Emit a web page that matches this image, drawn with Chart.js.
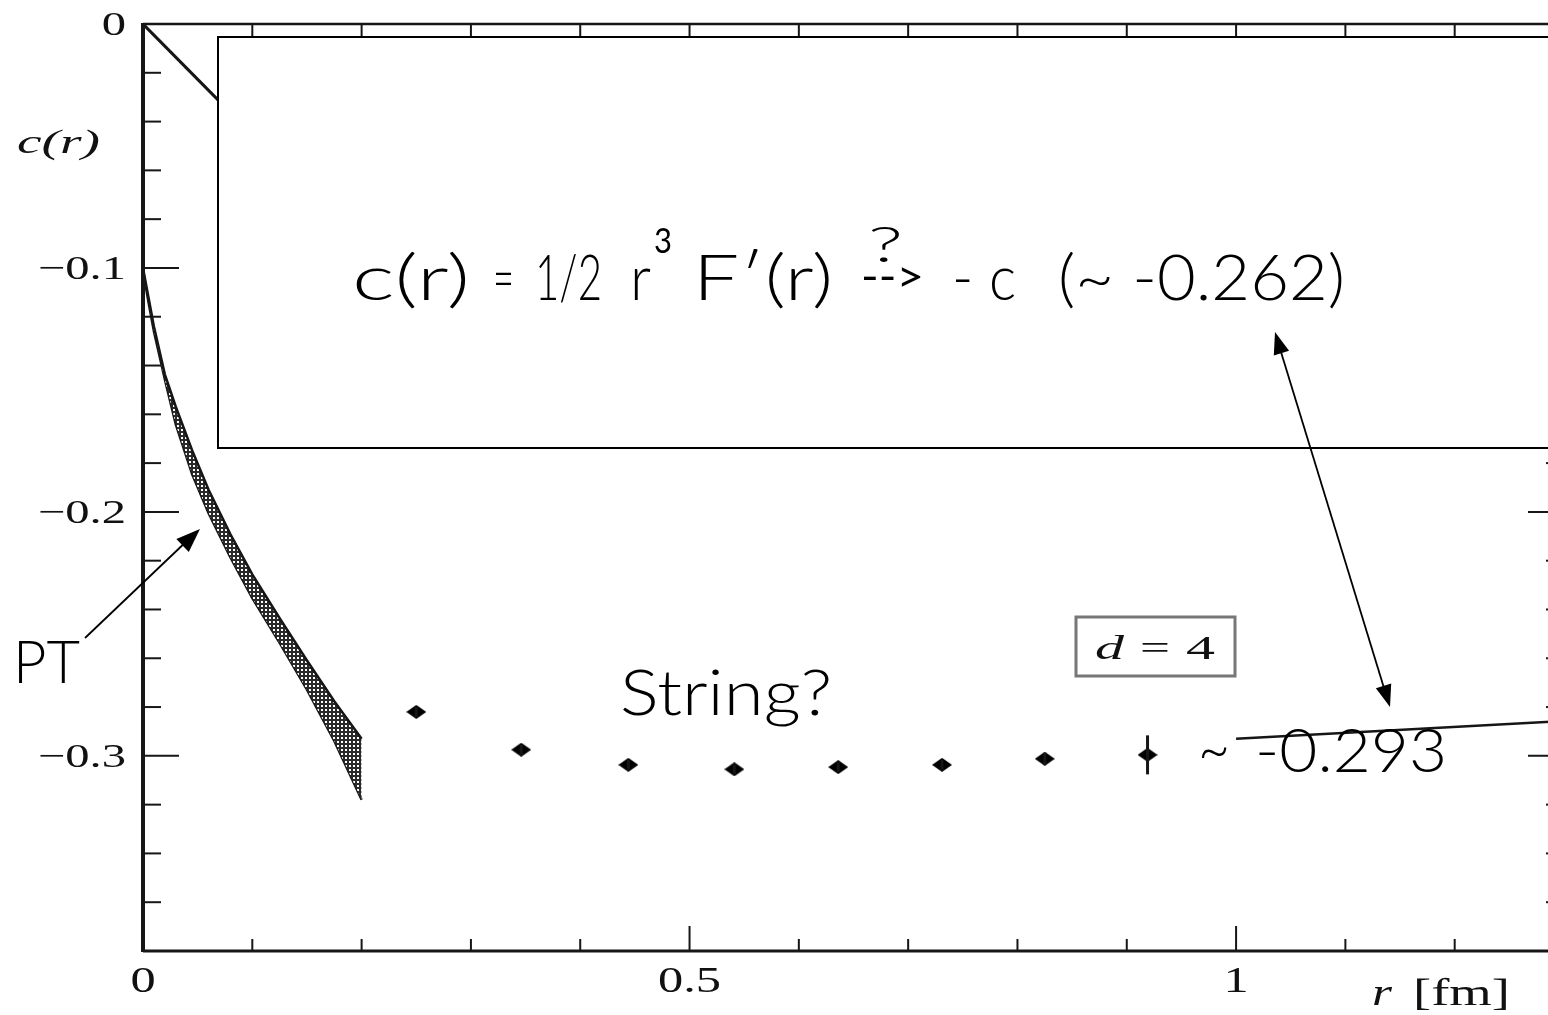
<!DOCTYPE html>
<html>
<head>
<meta charset="utf-8">
<title>c(r)</title>
<script src="https://cdn.jsdelivr.net/npm/chart.js@4.4.1/dist/chart.umd.min.js"></script>
<style>
  html, body { margin: 0; padding: 0; background: #fff; overflow: hidden; }
  #plot { position: absolute; left: 0; top: 0; }
</style>
</head>
<body>
<canvas id="plot" width="1600" height="1015"></canvas>
<script>
// lattice results for c(r), d = 4
const rLat = [0.250, 0.346, 0.444, 0.541, 0.636, 0.731, 0.825, 0.919];
const cLat = [-0.282, -0.2975, -0.3037, -0.3055, -0.3046, -0.3037, -0.3012, -0.2996];
const cLatErr = [0.002, 0.002, 0.002, 0.002, 0.002, 0.002, 0.0025, 0.008];

// perturbative band, upper and lower edge
const rPT = [0, 0.005, 0.01, 0.02, 0.03, 0.045, 0.06, 0.08, 0.1, 0.125, 0.15, 0.175, 0.2];
const cPTHi = [-0.100, -0.112, -0.124, -0.1436, -0.1569, -0.1748, -0.1909, -0.2092, -0.2256, -0.2436, -0.2609, -0.2776, -0.2930];
const cPTLo = [-0.101, -0.114, -0.126, -0.1457, -0.1641, -0.1846, -0.2005, -0.2187, -0.2353, -0.2537, -0.2729, -0.2939, -0.3180];

// straight line out of the origin
const rOrigin = [0, 0.15];
const cOrigin = [0, -0.068];

// large-r string line
const rString = [1.0, 1.3];
const cString = [-0.293, -0.2857];

// axis ticks
const xTickValues = [0, 0.5, 1];
const xMinorValues = [0.1, 0.2, 0.3, 0.4, 0.6, 0.7, 0.8, 0.9, 1.1, 1.2];
const yTickValues = [0, -0.1, -0.2, -0.3];
const yMinorValues = [-0.02, -0.04, -0.06, -0.08, -0.12, -0.14, -0.16, -0.18,
                      -0.22, -0.24, -0.26, -0.28, -0.32, -0.34, -0.36];

const ink = '#161616';
const serif = '"Liberation Serif", "Times New Roman", serif';
const sans = 'Lato, "Open Sans", sans-serif';

const pairs = (xs, ys) => xs.map((v, i) => ({ x: v, y: ys[i] }));

const canvas = document.getElementById('plot');
const ctx0 = canvas.getContext('2d');

// stipple for the PT band: dark grid with small white holes
const tile = document.createElement('canvas');
tile.width = 4; tile.height = 4;
const tg = tile.getContext('2d');
tg.fillStyle = '#2a2a2a'; tg.fillRect(0, 0, 4, 4);
tg.fillStyle = '#fff';
tg.fillRect(1, 1, 2, 2);
const ptPattern = ctx0.createPattern(tile, 'repeat');

// flattened diamond marker
const diamond = document.createElement('canvas');
diamond.width = 20; diamond.height = 14;
const dg = diamond.getContext('2d');
dg.fillStyle = '#000';
dg.beginPath();
dg.moveTo(10, 0); dg.lineTo(20, 7); dg.lineTo(10, 14); dg.lineTo(0, 7);
dg.closePath(); dg.fill();

// widened serif text
function stretchText(ctx, text, x, y, font, sx, align) {
  ctx.save();
  ctx.font = font;
  const w = ctx.measureText(text).width * sx;
  let left = x;
  if (align === 'right') left = x - w;
  else if (align === 'center') left = x - w / 2;
  ctx.translate(left, y);
  ctx.scale(sx, 1);
  ctx.textAlign = 'left';
  ctx.textBaseline = 'alphabetic';
  ctx.fillText(text, 0, 0);
  ctx.restore();
}

// text squeezed or widened to span x0..x1
function fitText(ctx, text, x0, x1, y, font) {
  ctx.save();
  ctx.font = font;
  const sx = (x1 - x0) / ctx.measureText(text).width;
  ctx.translate(x0, y);
  ctx.scale(sx, 1);
  ctx.textAlign = 'left';
  ctx.textBaseline = 'alphabetic';
  ctx.fillText(text, 0, 0);
  ctx.restore();
}

function arrowHead(ctx, fx, fy, tx, ty, len, half) {
  const a = Math.atan2(ty - fy, tx - fx);
  const c = Math.cos(a), s = Math.sin(a);
  ctx.beginPath();
  ctx.moveTo(tx, ty);
  ctx.lineTo(tx - len * c + half * s, ty - len * s - half * c);
  ctx.lineTo(tx - len * c - half * s, ty - len * s + half * c);
  ctx.closePath();
  ctx.fill();
}

function segment(ctx, x0, y0, x1, y1) {
  ctx.beginPath();
  ctx.moveTo(x0, y0);
  ctx.lineTo(x1, y1);
  ctx.stroke();
}

const decor = {
  id: 'decor',
  afterDatasetsDraw(chart) {
    const { ctx, chartArea: a, scales: { x, y } } = chart;
    ctx.save();
    ctx.strokeStyle = ink;
    ctx.fillStyle = ink;

    // error bars on the lattice points
    ctx.lineWidth = 3;
    rLat.forEach((r, i) => {
      const px = x.getPixelForValue(r);
      segment(ctx, px, y.getPixelForValue(cLat[i] + cLatErr[i]), px, y.getPixelForValue(cLat[i] - cLatErr[i]));
    });

    // inward tick marks on all four sides
    ctx.lineWidth = 2;
    xMinorValues.forEach(v => {
      const px = x.getPixelForValue(v);
      segment(ctx, px, a.bottom, px, a.bottom - 12);
      segment(ctx, px, a.top, px, a.top + 12);
    });
    x.ticks.forEach(t => {
      const px = x.getPixelForValue(t.value);
      segment(ctx, px, a.bottom, px, a.bottom - 25);
      segment(ctx, px, a.top, px, a.top + 25);
    });
    yMinorValues.forEach(v => {
      const py = y.getPixelForValue(v);
      segment(ctx, a.left, py, a.left + 18, py);
      segment(ctx, a.right, py, a.right - 18, py);
    });
    y.ticks.forEach(t => {
      const py = y.getPixelForValue(t.value);
      segment(ctx, a.left, py, a.left + 36, py);
      segment(ctx, a.right, py, a.right - 36, py);
    });

    // frame
    ctx.lineWidth = 2.5;
    segment(ctx, a.left, a.top, a.right, a.top);
    segment(ctx, a.right, a.top, a.right, a.bottom);
    ctx.lineWidth = 3;
    segment(ctx, a.left, a.bottom, a.right, a.bottom);
    ctx.lineWidth = 4;
    segment(ctx, a.left, a.top - 1, a.left, a.bottom + 1);

    // tick labels
    ctx.fillStyle = '#111';
    y.ticks.forEach(t => {
      const py = y.getPixelForValue(t.value);
      const label = t.value === 0 ? '0' : '\u2212' + Math.abs(t.value).toFixed(1);
      stretchText(ctx, label, a.left - 17, py + 11, '34px ' + serif, 1.43, 'right');
    });
    x.ticks.forEach(t => {
      const px = x.getPixelForValue(t.value);
      const label = t.value === 0 ? '0' : String(t.value);
      stretchText(ctx, label, px, 992, '35px ' + serif, 1.44, 'center');
    });

    // axis titles
    fitText(ctx, 'c(r)', 17, 100, 153, 'italic 34px ' + serif);
    stretchText(ctx, 'r', 1372, 1005, 'italic 38px ' + serif, 1.35, 'left');
    fitText(ctx, '[fm]', 1413, 1510, 1005, '38px ' + serif);

    // d = 4 box
    ctx.strokeStyle = '#777';
    ctx.lineWidth = 3;
    ctx.strokeRect(1076, 617, 159, 59);
    ctx.fillStyle = '#111';
    fitText(ctx, 'd', 1095, 1124, 659, 'italic 34px ' + serif);
    fitText(ctx, '=', 1140, 1170, 659, '34px ' + serif);
    fitText(ctx, '4', 1186, 1215, 659, '34px ' + serif);

    // white panel with the formula
    ctx.fillStyle = '#fff';
    ctx.fillRect(218, 37, 1400, 411);
    ctx.strokeStyle = '#000';
    ctx.lineWidth = 2;
    ctx.strokeRect(218, 37, 1400, 411);

    ctx.fillStyle = '#000';
    const big = '300 64px ' + sans;
    fitText(ctx, 'c(r)', 352, 470, 300, big);
    fitText(ctx, '=', 493, 514, 300, big);
    fitText(ctx, '1/2', 535, 602, 300, big);
    fitText(ctx, 'r', 630, 651, 300, big);
    fitText(ctx, '3', 654, 672, 253, '400 34px ' + sans);
    fitText(ctx, 'F\u2032(r)', 693, 833, 300, big);
    fitText(ctx, '?', 868, 903, 262, '300 50px ' + sans);
    fitText(ctx, '-->', 861, 924, 292, '400 44px ' + sans);
    fitText(ctx, '- c', 952, 1016, 300, big);
    fitText(ctx, '(~ -0.262)', 1058, 1345, 300, big);

    // annotations in the plot
    fitText(ctx, 'String?', 620, 832, 715, '300 64px ' + sans);
    fitText(ctx, 'PT', 13, 80, 683, '300 60px ' + sans);
    fitText(ctx, '~', 1198, 1230, 772, '300 66px ' + sans);
    fitText(ctx, '-0.293', 1255, 1447, 772, '300 62px ' + sans);

    // arrows
    ctx.strokeStyle = '#000';
    ctx.fillStyle = '#000';
    ctx.lineWidth = 1.8;
    segment(ctx, 85, 638, 190, 538);
    arrowHead(ctx, 85, 638, 200, 529, 24, 9);
    segment(ctx, 1281, 352, 1384, 688);
    arrowHead(ctx, 1390, 707, 1275, 332, 22, 8);
    arrowHead(ctx, 1275, 332, 1390, 707, 22, 8);

    ctx.restore();
  }
};

new Chart(canvas, {
  type: 'line',
  data: {
    datasets: [
      { data: pairs(rOrigin, cOrigin), borderColor: ink, borderWidth: 3, pointRadius: 0, fill: false },
      { data: pairs(rPT, cPTHi), borderColor: ink, borderWidth: 2.5, pointRadius: 0,
        fill: '+1', backgroundColor: ptPattern },
      { data: pairs(rPT, cPTLo), borderColor: ink, borderWidth: 2.5, pointRadius: 0, fill: false },
      { data: pairs(rLat, cLat), showLine: false, pointStyle: diamond, pointRadius: 10 },
      { data: pairs(rString, cString), borderColor: ink, borderWidth: 2.5, pointRadius: 0, fill: false }
    ]
  },
  options: {
    responsive: false,
    animation: false,
    devicePixelRatio: 1,
    layout: { padding: { top: 24, right: 36, left: 0, bottom: 0 } },
    plugins: { legend: { display: false }, tooltip: { enabled: false } },
    scales: {
      x: {
        type: 'linear', min: 0, max: 1.3,
        grid: { display: false, drawTicks: false },
        border: { display: false },
        ticks: { display: false },
        afterBuildTicks: s => { s.ticks = xTickValues.map(v => ({ value: v })); },
        afterFit: s => { s.height = 64; }
      },
      y: {
        type: 'linear', min: -0.38, max: 0,
        grid: { display: false, drawTicks: false },
        border: { display: false },
        ticks: { display: false },
        afterBuildTicks: s => { s.ticks = yTickValues.map(v => ({ value: v })); },
        afterFit: s => { s.width = 143; }
      }
    }
  },
  plugins: [decor]
});
</script>
</body>
</html>
